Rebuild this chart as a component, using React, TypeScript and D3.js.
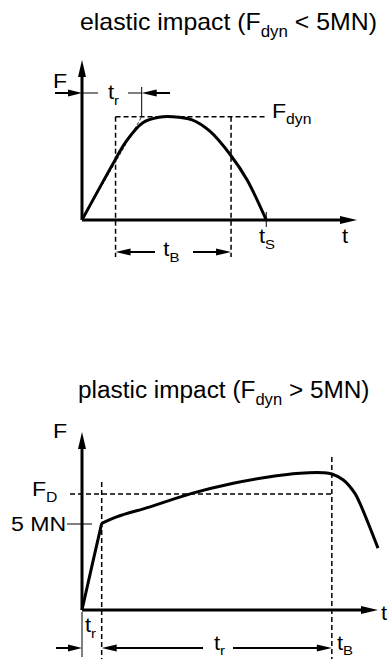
import React, { useEffect, useRef } from 'react';
import * as d3 from 'd3';

// elastic impact: time (0..100 axis units) and force relative to F_dyn
const elasticT = [0, 12, 16, 22, 28, 33, 40, 46.5, 54, 60, 67];
const elasticF = [0, 0.58, 0.76, 0.94, 0.995, 1, 0.97, 0.86, 0.63, 0.39, 0];
const elasticTB = [12.2, 54.2];
const elasticTr = 21.7;
const elasticTs = 67;
const elasticFdyn = 1;

// plastic impact: time (0..100 axis units) and force in MN
const plasticT = [0, 3.3, 6.65, 11.7, 23, 37.1, 51.1, 62.4, 73.6, 81.5, 84.4, 88.3, 92.2, 93.9, 100];
const plasticF = [0, 2.52, 5.04, 5.42, 6.0, 6.78, 7.37, 7.72, 7.95, 7.98, 7.91, 7.56, 6.78, 6.2, 3.6];
const plasticKnee = 2;
const plasticTr = 6.65;
const plasticTB = 84.4;
const plasticFD = 6.74;
const plasticYield = 5;

const FONT = 'Liberation Sans, Arial, sans-serif';

const App = () => {
  const ref = useRef<SVGSVGElement>(null);

  useEffect(() => {
    const svg = d3.select(ref.current);
    svg.selectAll('*').remove();

    const width = 387;
    const height = 659;
    svg.attr('width', width).attr('height', height);

    // text with an optional subscript and a trailing part; the source lettering is a bit wide
    const label = (g, x, y, main, sub, size = 20, rest = null, sx = 1.1, subDy = 0.3) => {
      const t = g.append('text')
        .attr('transform', `translate(${x},${y}) scale(${sx},1)`)
        .attr('font-family', FONT)
        .attr('font-size', size)
        .attr('fill', '#000');
      t.append('tspan').text(main);
      if (sub) {
        t.append('tspan').attr('font-size', size * 0.68).attr('dy', size * subDy).text(sub);
      }
      if (rest) {
        t.append('tspan').attr('dy', -size * subDy).text(rest);
      }
      return t;
    };

    // filled arrowhead with tip at (x, y), pointing in direction dir (radians)
    const head = (g, x, y, dir, len = 15, half = 3.5) => {
      const cx = Math.cos(dir), cy = Math.sin(dir);
      const bx = x - cx * len, by = y - cy * len;
      g.append('path')
        .attr('d', `M${x},${y}L${bx - cy * half},${by + cx * half}L${bx + cy * half},${by - cx * half}Z`)
        .attr('fill', '#000');
    };

    const line = (g, x1, y1, x2, y2, w = 1, dash = null) => {
      const l = g.append('line')
        .attr('x1', x1).attr('y1', y1).attr('x2', x2).attr('y2', y2)
        .attr('stroke', '#000').attr('stroke-width', w);
      if (dash) l.attr('stroke-dasharray', dash);
      return l;
    };

    const axes = (g, x, y) => {
      const [x0, x1] = x.range();
      const [y0, y1] = y.range();
      line(g, x0, y0, x1 - 10, y0, 3);
      head(g, x1, y0, 0, 17, 4);
      line(g, x0, y0, x0, y1 + 10, 3);
      head(g, x0, y1, -Math.PI / 2, 17, 4);
    };

    // ---------- elastic ----------
    const top = svg.append('g');
    const x1 = d3.scaleLinear().domain([0, 100]).range([82, 357]);
    const y1 = d3.scaleLinear().domain([0, 1.55]).range([220, 60]);

    label(top, 80, 30, 'elastic impact (F', 'dyn', 23, ' < 5MN)', 1.08);

    const fy = y1(elasticFdyn);
    const [bA, bB] = elasticTB.map(x1);
    // dashed F_dyn box
    line(top, bA, fy, x1(elasticTs), fy, 1.5, '5,3');
    line(top, bA, fy, bA, 257, 1.5, '5,3');
    line(top, bB, fy, bB, 257, 1.5, '5,3');
    label(top, 272, 118, 'F', 'dyn', 21);

    // tangent at origin
    const xr = x1(elasticTr);
    line(top, x1(0), y1(0), xr, fy, 0.8, '3,2');

    axes(top, x1, y1);

    top.append('path')
      .datum(elasticT.map((t, i) => [t, elasticF[i]]))
      .attr('d', d3.line().x(d => x1(d[0])).y(d => y1(d[1])).curve(d3.curveCatmullRom))
      .attr('fill', 'none').attr('stroke', '#000').attr('stroke-width', 3);

    // t_r dimension
    const dy = 93;
    label(top, 53, 88, 'F', null, 21);
    line(top, 55, dy, 74, dy, 2);
    head(top, 82, dy, 0, 14, 3.5);
    line(top, 82, dy, 98, dy, 1);
    label(top, 108, 99, 't', 'r', 20);
    line(top, 128, dy, xr, dy, 1);
    line(top, xr, 87, xr, fy, 1);
    line(top, xr + 12, dy, 170, dy, 2);
    head(top, xr, dy, Math.PI, 15, 3.5);

    // t_B dimension
    const by = 252;
    line(top, bA + 12, by, 155, by, 2);
    head(top, bA, by, Math.PI, 15, 3.5);
    line(top, 193, by, bB - 12, by, 2);
    head(top, bB, by, 0, 15, 3.5);
    label(top, (bA + bB) / 2 - 10, 256, 't', 'B', 20);

    // t_S
    const xs = x1(elasticTs);
    line(top, xs, 212, xs, 227, 1);
    label(top, 259, 243, 't', 'S', 20);
    label(top, 342, 243, 't', null, 20);

    // ---------- plastic ----------
    const bot = svg.append('g');
    const x2 = d3.scaleLinear().domain([0, 100]).range([82, 378]);
    const y2 = d3.scaleLinear().domain([0, 10.35]).range([610, 432]);

    label(bot, 78, 398, 'plastic impact (F', 'dyn', 23, ' > 5MN)', 1.06);

    const xk = x2(plasticTr);
    const xb = x2(plasticTB);
    const yd = y2(plasticFD);
    line(bot, 70, yd, xb, yd, 1.5, '5,3');
    line(bot, xk, 482, xk, 659, 1.5, '5,3');
    line(bot, xb, 457, xb, 659, 1.5, '5,3');

    axes(bot, x2, y2);

    const pts = plasticT.map((t, i) => [t, plasticF[i]]);
    bot.append('path')
      .datum(pts.slice(0, plasticKnee + 1))
      .attr('d', d3.line().x(d => x2(d[0])).y(d => y2(d[1])))
      .attr('fill', 'none').attr('stroke', '#000').attr('stroke-width', 3);
    bot.append('path')
      .datum(pts.slice(plasticKnee))
      .attr('d', d3.line().x(d => x2(d[0])).y(d => y2(d[1])).curve(d3.curveCatmullRom))
      .attr('fill', 'none').attr('stroke', '#000').attr('stroke-width', 3);

    label(bot, 53, 438, 'F', null, 21);
    label(bot, 32, 496, 'F', 'D', 21);
    const y5 = y2(plasticYield);
    line(bot, 67, y5, 92, y5, 1);
    label(bot, 11, 531, '5 MN', null, 21);
    label(bot, 381, 620, 't', null, 20);

    // time dimensions
    const ay = 648;
    line(bot, x2(0), 612, x2(0), 657, 1);
    label(bot, 85, 632, 't', 'r', 20);
    line(bot, 56, ay, 70, ay, 2);
    head(bot, x2(0), ay, 0, 14, 3.5);
    line(bot, xk + 12, ay, 203, ay, 2);
    head(bot, xk, ay, Math.PI, 15, 3.5);
    label(bot, 214, 650, 't', 'r', 20, null, 1.1, 0.25);
    line(bot, 233, ay, xb - 12, ay, 2);
    head(bot, xb, ay, 0, 15, 3.5);
    label(bot, 337, 650, 't', 'B', 20, null, 1.1, 0.25);
  }, []);

  return <svg ref={ref} style={{ position: 'absolute', left: 0, top: 0 }}></svg>;
};

export default App;
